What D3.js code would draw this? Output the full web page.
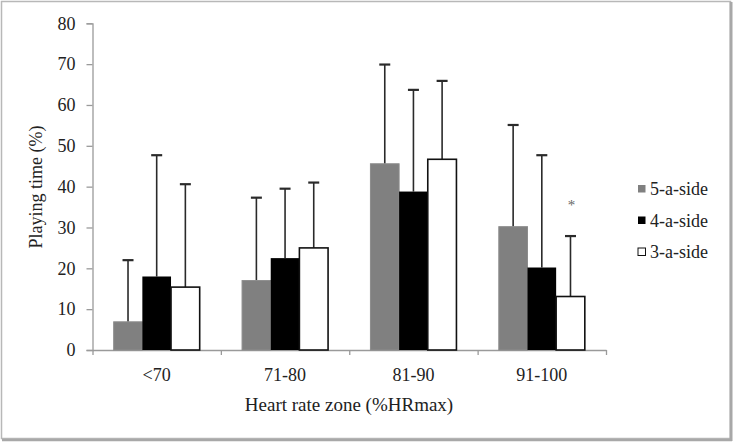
<!DOCTYPE html>
<html>
<head>
<meta charset="utf-8">
<script src="https://cdn.jsdelivr.net/npm/d3@7"></script>
<style>
  html, body { margin: 0; padding: 0; background: #fff; }
  svg { display: block; }
</style>
</head>
<body>
<svg id="chart" width="734" height="443"></svg>
<script>
const zones = ["<70", "71-80", "81-90", "91-100"];
const seriesNames = ["5-a-side", "4-a-side", "3-a-side"];
const seriesColors = ["#808080", "#000000", "#ffffff"];
const means5 = [6.9, 17.0, 45.6, 30.2];
const means4 = [18.0, 22.5, 38.8, 20.2];
const means3 = [15.4, 25.0, 46.7, 13.1];
const sd5 = [15.1, 20.3, 24.3, 24.9];
const sd4 = [29.7, 17.0, 24.9, 27.5];
const sd3 = [25.2, 16.0, 19.2, 14.8];
const yTicks = [0, 10, 20, 30, 40, 50, 60, 70, 80];
const annotations = [{ zone: "91-100", series: "3-a-side", label: "*" }];

const FONT = "'Liberation Serif', 'Times New Roman', Times, Tinos, 'DejaVu Serif', serif";

const meansBySeries = [means5, means4, means3];
const sdBySeries = [sd5, sd4, sd3];
const data = zones.map((z, i) => ({
  zone: z,
  values: seriesNames.map((s, k) => ({ series: s, mean: meansBySeries[k][i], sd: sdBySeries[k][i], color: seriesColors[k] }))
}));

const svg = d3.select("#chart").style("font-family", FONT);

// outer frame
svg.append("rect").attr("x", 1.5).attr("y", 1.5).attr("width", 729).attr("height", 437)
  .attr("fill", "none").attr("stroke", "#b8b8b8").attr("stroke-width", 1.5);
svg.append("line").attr("x1", 731).attr("x2", 731).attr("y1", 2).attr("y2", 441)
  .attr("stroke", "#a8a8a8").attr("stroke-width", 3);
svg.append("line").attr("x1", 2).attr("x2", 732).attr("y1", 440).attr("y2", 440)
  .attr("stroke", "#a8a8a8").attr("stroke-width", 2.5);

const mLeft = 92.5, mRight = 606, mTop = 23.3, mBottom = 350;

const y = d3.scaleLinear().domain([0, 80]).range([mBottom, mTop]);
const x0 = d3.scaleBand().domain(zones).range([mLeft, mRight]).paddingInner(0.33).paddingOuter(0.165);
const x1 = d3.scaleBand().domain(seriesNames).range([0, x0.bandwidth()]);

// y axis
const yAxis = svg.append("g").attr("transform", `translate(${mLeft},0)`)
  .call(d3.axisLeft(y).tickValues(yTicks).tickSize(6).tickPadding(11).tickFormat(d3.format("d")));
yAxis.attr("font-family", FONT).attr("font-size", 18);
yAxis.select(".domain").attr("stroke", "#9a9a9a").attr("stroke-width", 1.3);
yAxis.selectAll(".tick line").attr("stroke", "#9a9a9a").attr("stroke-width", 1.3);
yAxis.selectAll(".tick text").attr("fill", "#222");

// x axis: line with ticks at category boundaries
const xLine = d3.scaleLinear().domain([0, zones.length]).range([mLeft, mRight]);
const xAxis = svg.append("g").attr("transform", `translate(0,${mBottom})`)
  .call(d3.axisBottom(xLine).tickValues(d3.range(0, zones.length + 1)).tickSize(5).tickSizeOuter(0).tickFormat(""));
xAxis.select(".domain").attr("stroke", "#9a9a9a").attr("stroke-width", 1.3);
xAxis.selectAll(".tick line").attr("stroke", "#9a9a9a").attr("stroke-width", 1.3);

// category labels
svg.append("g").selectAll("text").data(zones).join("text")
  .attr("x", d => x0(d) + x0.bandwidth() / 2)
  .attr("y", 381)
  .attr("text-anchor", "middle")
  .attr("font-family", FONT)
  .attr("font-size", 18)
  .attr("fill", "#222")
  .text(d => d);

// groups
const groups = svg.append("g").selectAll("g").data(data).join("g")
  .attr("transform", d => `translate(${x0(d.zone)},0)`);

// error bars (upper only) drawn first
groups.selectAll("g.err").data(d => d.values).join("g").attr("class", "err")
  .each(function(d) {
    const g = d3.select(this);
    const cx = x1(d.series) + x1.bandwidth() / 2;
    g.append("line").attr("x1", cx).attr("x2", cx).attr("y1", y(d.mean)).attr("y2", y(d.mean + d.sd))
      .attr("stroke", "#2a2a2a").attr("stroke-width", 1.6);
    g.append("line").attr("x1", cx - 5.5).attr("x2", cx + 5.5).attr("y1", y(d.mean + d.sd)).attr("y2", y(d.mean + d.sd))
      .attr("stroke", "#2a2a2a").attr("stroke-width", 2.2);
  });

groups.selectAll("rect").data(d => d.values).join("rect")
  .attr("x", d => x1(d.series))
  .attr("width", x1.bandwidth())
  .attr("y", d => y(d.mean))
  .attr("height", d => y(0) - y(d.mean))
  .attr("fill", d => d.color)
  .attr("stroke", d => d.series === "3-a-side" ? "#111" : (d.series === "5-a-side" ? "#8c8c8c" : "none"))
  .attr("stroke-width", d => d.series === "3-a-side" ? 1.6 : 1);

// annotations
annotations.forEach(a => {
  const zi = zones.indexOf(a.zone), si = seriesNames.indexOf(a.series);
  const errTop = meansBySeries[si][zi] + sdBySeries[si][zi];
  svg.append("text")
    .attr("x", x0(a.zone) + x1(a.series) + x1.bandwidth() / 2 + 1)
    .attr("y", y(errTop) - 26)
    .attr("text-anchor", "middle")
    .attr("font-family", FONT)
    .attr("font-size", 15)
    .attr("fill", "#666")
    .text(a.label);
});

// axis titles
svg.append("text")
  .attr("transform", "translate(42,187) rotate(-90)")
  .attr("text-anchor", "middle")
  .attr("font-family", FONT)
  .attr("font-size", 18)
  .attr("fill", "#222")
  .text("Playing time (%)");

svg.append("text")
  .attr("x", 349)
  .attr("y", 411)
  .attr("text-anchor", "middle")
  .attr("font-family", FONT)
  .attr("font-size", 19)
  .attr("fill", "#222")
  .text("Heart rate zone (%HRmax)");

// legend
const legend = svg.append("g").selectAll("g").data(seriesNames).join("g")
  .attr("transform", (d, i) => `translate(638,${189 + i * 31.5})`);
legend.append("rect")
  .attr("x", 0).attr("y", -4).attr("width", 7.5).attr("height", 7.5)
  .attr("fill", (d, i) => seriesColors[i])
  .attr("stroke", (d, i) => i === 2 ? "#111" : "none")
  .attr("stroke-width", 1);
legend.append("text")
  .attr("x", 12).attr("y", 6)
  .attr("font-family", FONT)
  .attr("font-size", 18)
  .attr("fill", "#222")
  .text(d => d);
</script>
</body>
</html>
